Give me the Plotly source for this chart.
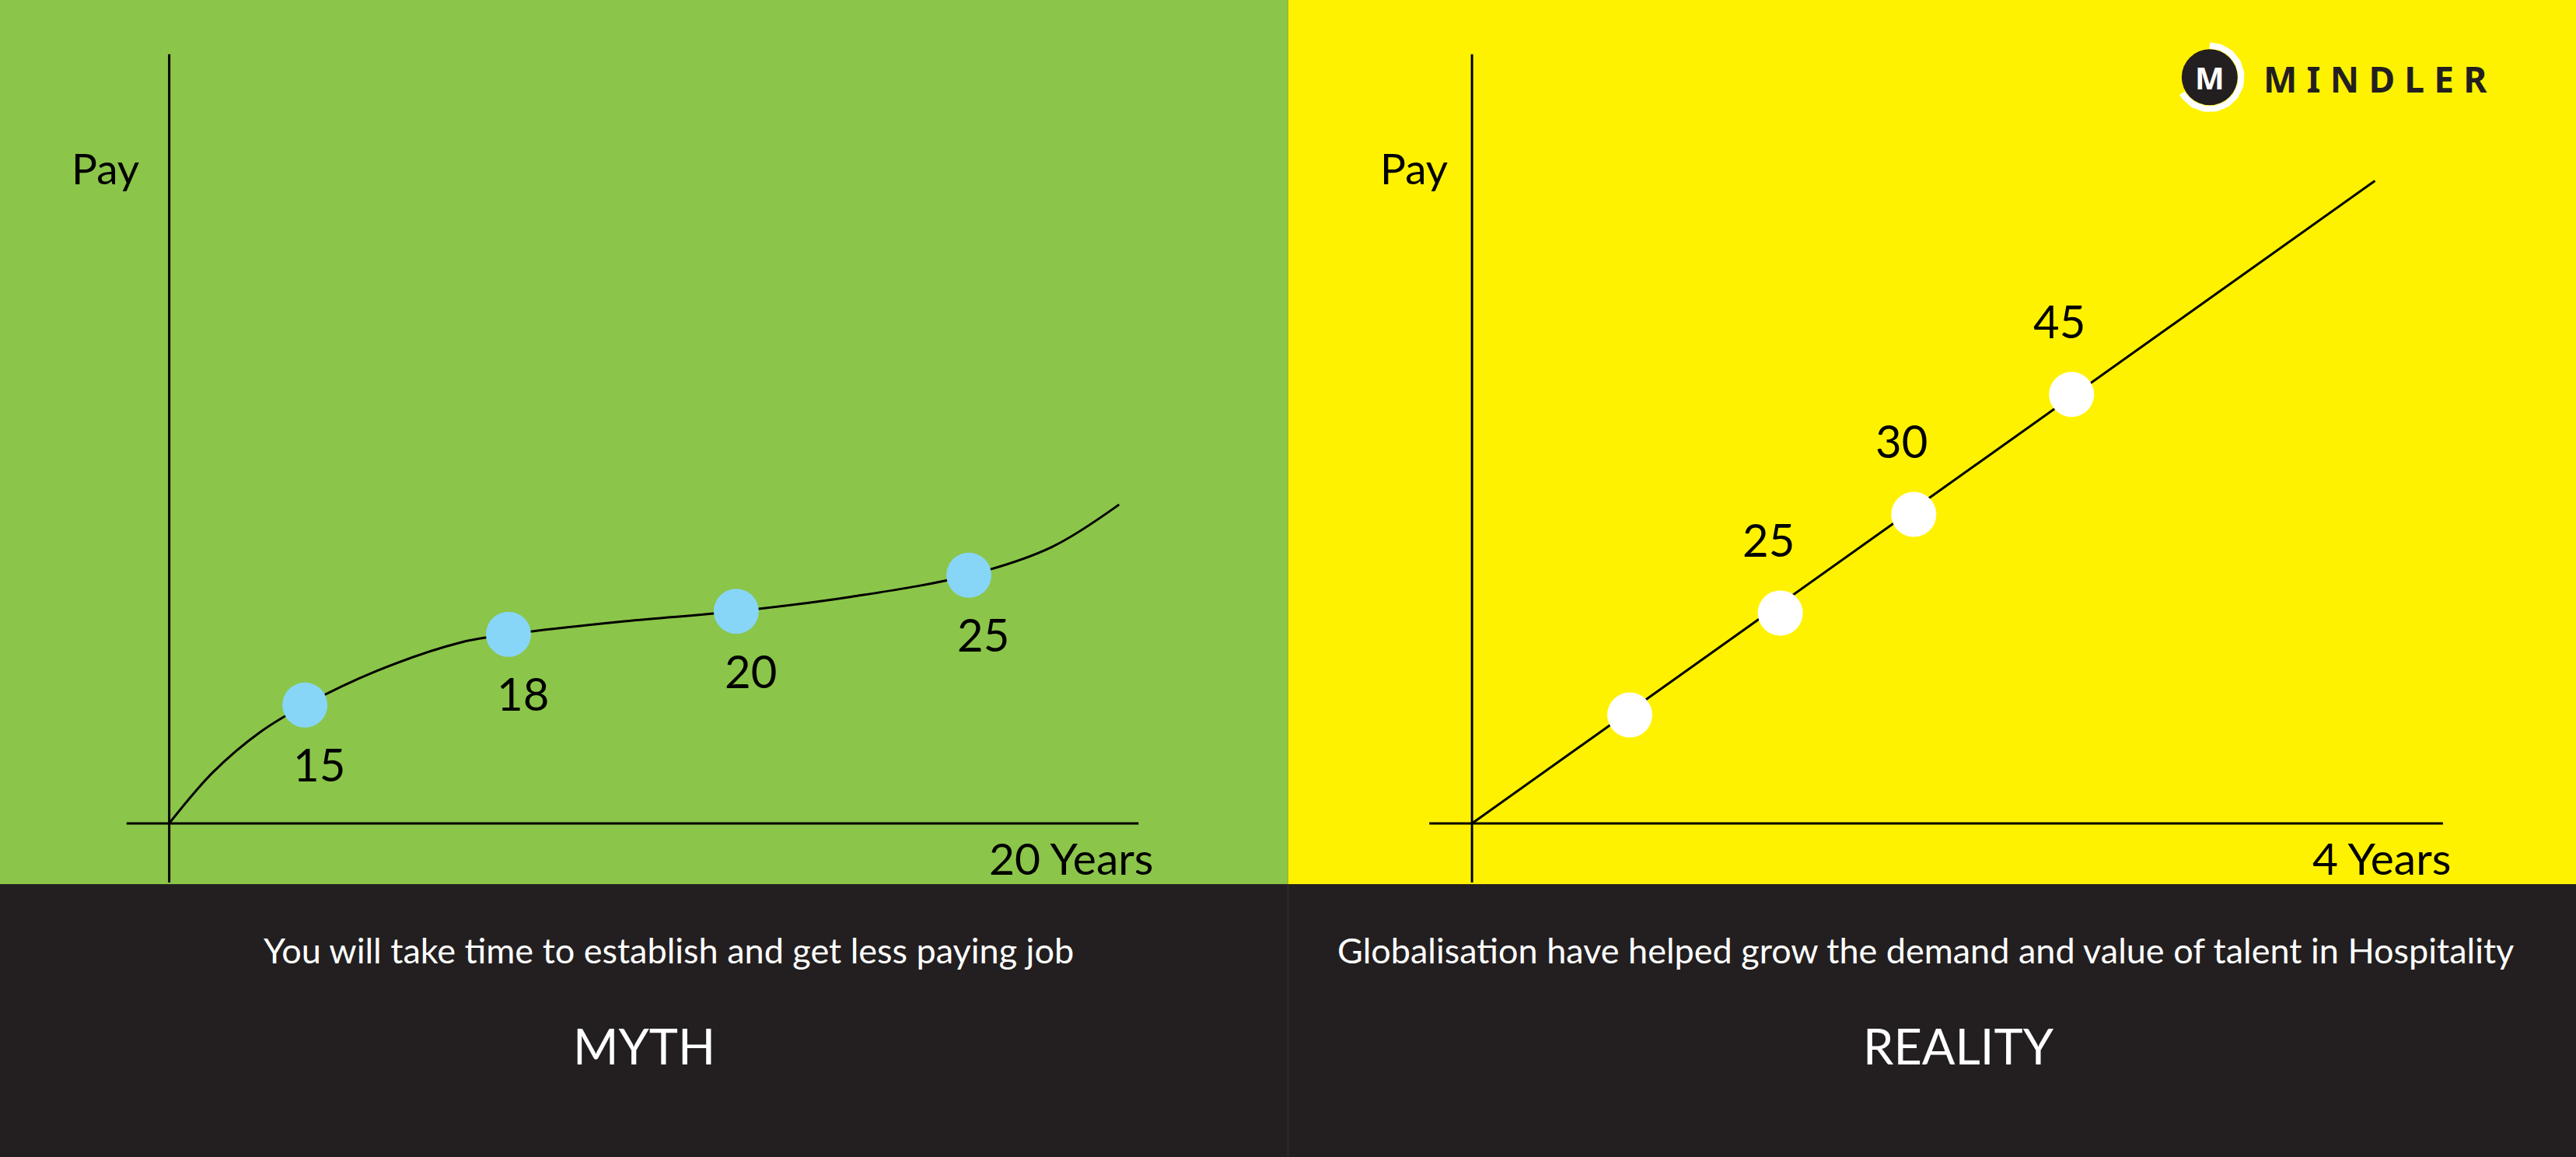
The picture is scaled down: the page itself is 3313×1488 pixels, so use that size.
import plotly.graph_objects as go
import numpy as np

W, H = 3313, 1488
GREEN, YELLOW, DARK = "#8BC54A", "#FFF200", "#231F20"
FONT = "Lato"

# Left panel (Myth): years vs pay index
myth_curve_x = [0, 0.9, 1.9, 2.8, 4.3, 6.0, 7.0, 9.4, 11.7, 14.1, 16.5, 18.2, 19.6]
myth_curve_y = [0, 3.1, 5.6, 7.2, 9.3, 11.0, 11.5, 12.3, 12.9, 13.8, 15.1, 16.8, 19.4]
myth_dot_x = [2.8, 7.0, 11.7, 16.5]
myth_dot_y = [7.2, 11.5, 12.9, 15.1]
myth_labels = ["15", "18", "20", "25"]

# Right panel (Reality)
real_line_x = [0, 3.72]
real_line_y = [0, 39.1]
real_dot_x = [0.65, 1.27, 1.82, 2.47]
real_dot_y = [6.6, 12.8, 18.8, 26.1]
real_labels = ["", "25", "30", "45"]

fig = go.Figure()

fig.add_shape(type="rect", xref="paper", yref="paper", x0=0, x1=784/1568, y0=166/704, y1=1,
              fillcolor=GREEN, line_width=0, layer="below")
fig.add_shape(type="rect", xref="paper", yref="paper", x0=784/1568, x1=1, y0=166/704, y1=1,
              fillcolor=YELLOW, line_width=0, layer="below")
fig.add_shape(type="rect", xref="paper", yref="paper", x0=0, x1=1, y0=0, y1=166/704,
              fillcolor=DARK, line_width=0, layer="below")
fig.add_shape(type="line", xref="paper", yref="paper", x0=784/1568, x1=784/1568, y0=0, y1=166/704,
              line=dict(color="#2e2a2b", width=2), layer="below")

def axes(xa, ya, xneg, xmax, ytop, ybot):
    fig.add_shape(type="line", xref=xa, yref=ya, x0=0, x1=0, y0=ybot, y1=ytop,
                  line=dict(color="black", width=3))
    fig.add_shape(type="line", xref=xa, yref=ya, x0=xneg, x1=xmax, y0=0, y1=0,
                  line=dict(color="black", width=3))

axes("x", "y", -0.88, 20.0, 46.8, -3.6)
axes("x2", "y2", -0.176, 4.0, 46.8, -3.6)

fig.add_trace(go.Scatter(x=myth_curve_x, y=myth_curve_y, mode="lines", line_shape="spline",
                         line=dict(color="black", width=3), xaxis="x", yaxis="y"))
fig.add_trace(go.Scatter(x=myth_dot_x, y=myth_dot_y, mode="markers",
                         marker=dict(size=58, color="#87D6F7"), xaxis="x", yaxis="y"))
fig.add_trace(go.Scatter(x=real_line_x, y=real_line_y, mode="lines",
                         line=dict(color="black", width=3), xaxis="x2", yaxis="y2"))
fig.add_trace(go.Scatter(x=real_dot_x, y=real_dot_y, mode="markers",
                         marker=dict(size=58, color="white"), xaxis="x2", yaxis="y2"))

# logo (in right-panel display units -> data)
def to2(px, py):
    return (px - 896) / 147.75, (501 - py) / 10
lcx, lcy = 1345, 47
ang = np.linspace(np.pi / 2, -5 * np.pi / 6, 80)
rr = 19.3
ax_, ay_ = zip(*[to2(lcx + rr * np.cos(a), lcy - rr * np.sin(a)) for a in ang])
fig.add_trace(go.Scatter(x=list(ax_), y=list(ay_), mode="lines", line=dict(color="white", width=8),
                         xaxis="x2", yaxis="y2"))
cx2, cy2 = to2(lcx, lcy)
fig.add_trace(go.Scatter(x=[cx2], y=[cy2], mode="markers", marker=dict(size=72, color=DARK),
                         xaxis="x2", yaxis="y2"))

ann = []
def t(x, y, s, size, xa="x", ya="y", xanchor="center", color="black", family=FONT, weight=400):
    ann.append(dict(x=x, y=y, text=s, xref=xa, yref=ya, showarrow=False, xanchor=xanchor,
                    yanchor="middle", font=dict(size=size, color=color, family=family, weight=weight)))

for x, y, s in zip(myth_dot_x, myth_dot_y, myth_labels):
    t(x + 0.3, y - 3.6, s, 58)
for x, y, s in zip(real_dot_x, real_dot_y, real_labels):
    if s:
        t(x - 0.05, y + 4.5, s, 58, "x2", "y2")

t(-2.05, 39.9, "Pay", 55, xanchor="left")
t(-0.385, 39.9, "Pay", 55, "x2", "y2", xanchor="left")
t(20.35, -2.1, "20 Years", 57, xanchor="right")
t(4.04, -2.1, "4 Years", 57, "x2", "y2", xanchor="right")
t(cx2, cy2, "M", 40, "x2", "y2", color="white", family="Noto Sans", weight=700)

def p(x, y, s, size, color="white", family=FONT, xanchor="center", weight=400):
    ann.append(dict(x=x / 1568, y=1 - y / 704, text=s, xref="paper", yref="paper", showarrow=False,
                    xanchor=xanchor, yanchor="middle",
                    font=dict(size=size, color=color, family=family, weight=weight)))

p(407, 578, "You will take time to establish and get less paying job", 45)
p(1172, 578, "Globalisation have helped grow the demand and value of talent in Hospitality", 45)
p(392, 636, "MYTH", 63)
p(1192, 636, "REALITY", 63)
p(1377, 48, "M\u2009\u200aI\u2009\u200aN\u2009\u200aD\u2009\u200aL\u2009\u200aE\u2009\u200aR", 46,
  color=DARK, family="Noto Sans", xanchor="left", weight=700)

fig.update_layout(
    width=W, height=H, margin=dict(l=0, r=0, t=0, b=0), showlegend=False,
    paper_bgcolor=DARK, plot_bgcolor="rgba(0,0,0,0)", annotations=ann,
    xaxis=dict(domain=[0, 784 / 1568], range=[-103 / 29.5, (784 - 103) / 29.5], visible=False),
    yaxis=dict(domain=[0, 1], range=[-20.3, 50.1], visible=False),
    xaxis2=dict(domain=[784 / 1568, 1], range=[-112 / 147.75, (1568 - 896) / 147.75], visible=False),
    yaxis2=dict(domain=[0, 1], range=[-20.3, 50.1], visible=False, anchor="x2"),
)
fig.write_html("out.html", config={"displayModeBar": False},
               post_script="document.body.style.margin='0';document.body.style.overflow='hidden';")
